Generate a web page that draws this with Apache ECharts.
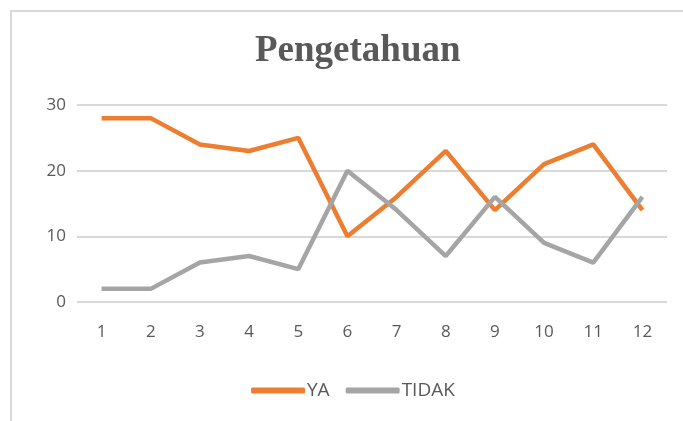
<!DOCTYPE html>
<html><head><meta charset="utf-8">
<script src="https://cdn.jsdelivr.net/npm/echarts@6/dist/echarts.min.js"></script>
<style>html,body{margin:0;padding:0;background:#fff}#c{width:683px;height:421px}</style>
</head><body><div id="c"></div>
<script>
const categories = ['1','2','3','4','5','6','7','8','9','10','11','12'];
const ya = [28, 28, 24, 23, 25, 10, 16, 23, 14, 21, 24, 14];
const tidak = [2, 2, 6, 7, 5, 20, 14, 7, 16, 9, 6, 16];
const chart = echarts.init(document.getElementById('c'));
chart.setOption({
  animation: false,
  graphic: [{type:'rect', shape:{x:11,y:11,width:700,height:450}, style:{fill:'none', stroke:'#d9d9d9', lineWidth:2}, silent:true}],
  title: {text:'Pengetahuan', left:250, top:28, textStyle:{fontFamily:'Liberation Serif', fontWeight:'bold', fontSize:37, color:'#595959'}},
  grid: {left:77, right:16, top:105, bottom:119},
  legend: {top:376, left:246, itemWidth:54, itemHeight:6, itemGap:16, icon:'roundRect',
    textStyle:{fontFamily:'Open Sans', fontSize:19, color:'#595959', padding:[0,0,0,-3]},
    data:['YA','TIDAK']},
  xAxis: {type:'category', data:categories, boundaryGap:true,
    axisLine:{show:false}, axisTick:{show:false},
    axisLabel:{fontFamily:'Open Sans', fontSize:17, color:'#595959', margin:22}},
  yAxis: {type:'value', min:0, max:30, interval:10,
    axisLine:{show:false}, axisTick:{show:false},
    axisLabel:{fontFamily:'Open Sans', fontSize:17, color:'#595959', margin:11},
    splitLine:{lineStyle:{color:'#d9d9d9', width:2}}},
  series: [
    {name:'YA', type:'line', data:ya, symbol:'none', lineStyle:{color:'#ED7D31', width:4.5}, itemStyle:{color:'#ED7D31'}},
    {name:'TIDAK', type:'line', data:tidak, symbol:'none', lineStyle:{color:'#A5A5A5', width:4.5}, itemStyle:{color:'#A5A5A5'}}
  ]
});
</script></body></html>
